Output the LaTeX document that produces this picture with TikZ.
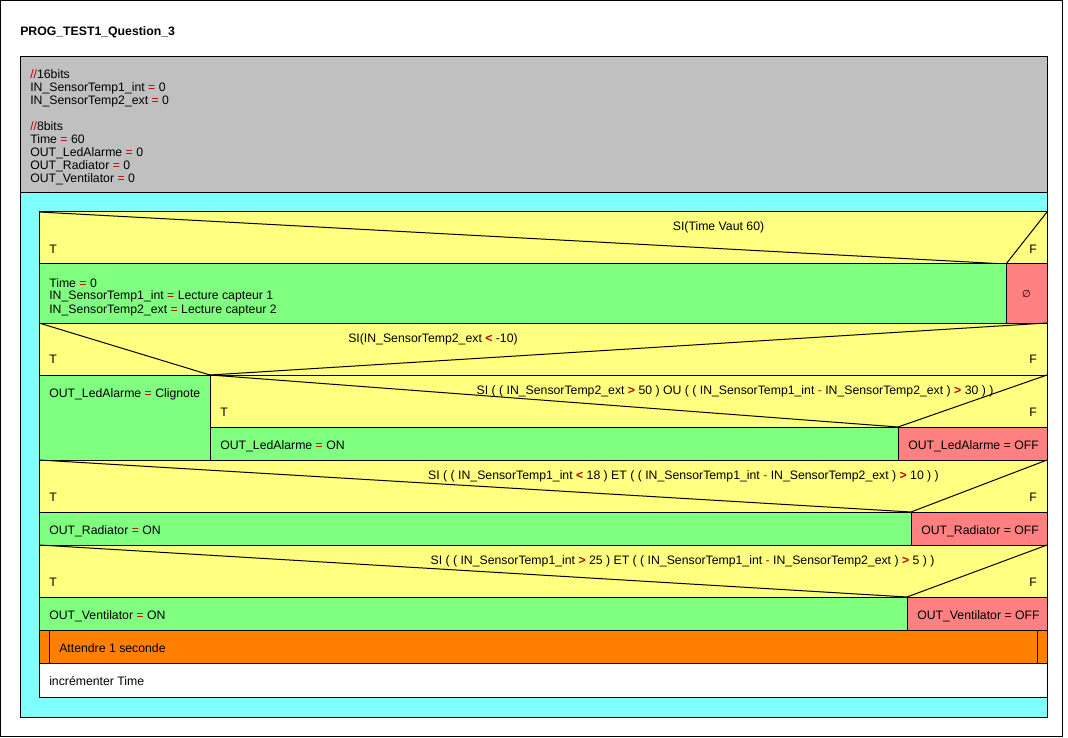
\documentclass[tikz,border=0pt]{standalone}
\usepackage{fontspec}
\setmainfont{Liberation Sans}
\newfontfamily\symfont{DejaVu Sans}
\definecolor{nsgray}{HTML}{C0C0C0}
\definecolor{nscyan}{HTML}{80FFFF}
\definecolor{nsyellow}{HTML}{FFFF80}
\definecolor{nsgreen}{HTML}{80FF80}
\definecolor{nsred}{HTML}{FF8080}
\definecolor{nsorange}{HTML}{FF8000}
\definecolor{opred}{HTML}{C00000}
% operators are highlighted in dark red
\newcommand\opr[1]{\textcolor{opred}{#1}}
\newcommand\opb[1]{\textcolor{opred}{\bfseries #1}}
\begin{document}
\begin{tikzpicture}[x=0.75pt,y=-0.75pt,
  font=\fontsize{9.2}{11}\selectfont,
  lbl/.style={anchor=base west, inner sep=0pt},
  cond/.style={anchor=base, inner sep=0pt},
  cell/.style={draw=black, line width=0.75pt},
  diag/.style={draw=black, line width=0.75pt, line join=miter}]
\useasboundingbox (0,0) rectangle (1068,738);
% outer frame and title
\draw[line width=0.75pt] (0.5,0.5) rectangle (1062.5,736.5);
\node[lbl, font=\fontsize{9.2}{11}\selectfont\bfseries] (title) at (20,35.5) {PROG\_TEST1\_Question\_3};

% declarations
\filldraw[cell, fill=nsgray] (20,57) rectangle (1047,193);
\node[lbl] (d1) at (30,79)  {\opr{//}16bits};
\node[lbl] (d2) at (30,92)  {IN\_SensorTemp1\_int \opr{=} 0};
\node[lbl] (d3) at (30,105) {IN\_SensorTemp2\_ext \opr{=} 0};
\node[lbl] (d4) at (30,131) {\opr{//}8bits};
\node[lbl] (d5) at (30,144) {Time \opr{=} 60};
\node[lbl] (d6) at (30,157) {OUT\_LedAlarme \opr{=} 0};
\node[lbl] (d7) at (30,170) {OUT\_Radiator \opr{=} 0};
\node[lbl] (d8) at (30,183) {OUT\_Ventilator \opr{=} 0};

% main loop body
\filldraw[cell, fill=nscyan] (20,193) rectangle (1047,717);

% IF Time Vaut 60
\filldraw[cell, fill=nsyellow] (39,212) rectangle (1047,264);
\draw[diag] (39,212) -- (1006,264) -- (1047,212);
\node[cond] (c1) at (718.5,231) {SI(Time Vaut 60)};
\node[lbl] (t1) at (49,253) {T};
\node[lbl] (f1) at (1029,253) {F};
\filldraw[cell, fill=nsgreen] (39,264) rectangle (1006,323);
\filldraw[cell, fill=nsred] (1006,264) rectangle (1047,323);
\node[lbl] (a1) at (49,287) {Time \opr{=} 0};
\node[lbl] (a2) at (49,300) {IN\_SensorTemp1\_int \opr{=} Lecture capteur 1};
\node[lbl] (a3) at (49,313) {IN\_SensorTemp2\_ext \opr{=} Lecture capteur 2};
\node[inner sep=0pt, font=\symfont\fontsize{7.5}{9}\selectfont] (e1) at (1026.5,294) {∅};

% IF sensor 2 below -10
\filldraw[cell, fill=nsyellow] (39,323) rectangle (1047,375);
\draw[diag] (39,323) -- (210,375) -- (1047,323);
\node[cond] (c2) at (433,342) {SI(IN\_SensorTemp2\_ext \opb{<} -10)};
\node[lbl] (t2) at (49,363) {T};
\node[lbl] (f2) at (1029,363) {F};
\filldraw[cell, fill=nsgreen] (39,375) rectangle (210,460);
\node[lbl] (a4) at (49,397) {OUT\_LedAlarme \opr{=} Clignote};

% nested IF
\filldraw[cell, fill=nsyellow] (210,375) rectangle (1047,427);
\draw[diag] (210,375) -- (898,427) -- (1047,375);
\node[cond] (c3) at (735,394) {SI ( ( IN\_SensorTemp2\_ext \opb{>} 50 ) OU ( ( IN\_SensorTemp1\_int \opr{-} IN\_SensorTemp2\_ext ) \opb{>} 30 ) )};
\node[lbl] (t3) at (220,416) {T};
\node[lbl] (f3) at (1029,416) {F};
\filldraw[cell, fill=nsgreen] (210,427) rectangle (898,460);
\filldraw[cell, fill=nsred] (898,427) rectangle (1047,460);
\node[lbl] (a5) at (220,449) {OUT\_LedAlarme \opr{=} ON};
\node[lbl] (a6) at (908,449) {OUT\_LedAlarme \textcolor{black!85!opred}{=} OFF};

% IF radiator
\filldraw[cell, fill=nsyellow] (39,460) rectangle (1047,512);
\draw[diag] (39,460) -- (911,512) -- (1047,460);
\node[cond] (c4) at (683.5,479) {SI ( ( IN\_SensorTemp1\_int \opb{<} 18 ) ET ( ( IN\_SensorTemp1\_int \opr{-} IN\_SensorTemp2\_ext ) \opb{>} 10 ) )};
\node[lbl] (t4) at (49,501) {T};
\node[lbl] (f4) at (1029,501) {F};
\filldraw[cell, fill=nsgreen] (39,512) rectangle (911,545);
\filldraw[cell, fill=nsred] (911,512) rectangle (1047,545);
\node[lbl] (a7) at (49,534) {OUT\_Radiator \opr{=} ON};
\node[lbl] (a8) at (921,534) {OUT\_Radiator \textcolor{black!85!opred}{=} OFF};

% IF ventilator
\filldraw[cell, fill=nsyellow] (39,545) rectangle (1047,597);
\draw[diag] (39,545) -- (907,597) -- (1047,545);
\node[cond] (c5) at (682.5,564) {SI ( ( IN\_SensorTemp1\_int \opb{>} 25 ) ET ( ( IN\_SensorTemp1\_int \opr{-} IN\_SensorTemp2\_ext ) \opb{>} 5 ) )};
\node[lbl] (t5) at (49,586) {T};
\node[lbl] (f5) at (1029,586) {F};
\filldraw[cell, fill=nsgreen] (39,597) rectangle (907,630);
\filldraw[cell, fill=nsred] (907,597) rectangle (1047,630);
\node[lbl] (a9) at (49,619) {OUT\_Ventilator \opr{=} ON};
\node[lbl] (a10) at (917,619) {OUT\_Ventilator \textcolor{black!85!opred}{=} OFF};

% call and last instruction
\filldraw[cell, fill=nsorange] (39,630) rectangle (1047,663);
\draw[cell] (49,630) -- (49,663) (1037,630) -- (1037,663);
\node[lbl] (a11) at (59,652) {Attendre 1 seconde};
\filldraw[cell, fill=white] (39,663) rectangle (1047,697);
\node[lbl] (a12) at (49,685) {incrémenter Time};
\end{tikzpicture}
\end{document}
